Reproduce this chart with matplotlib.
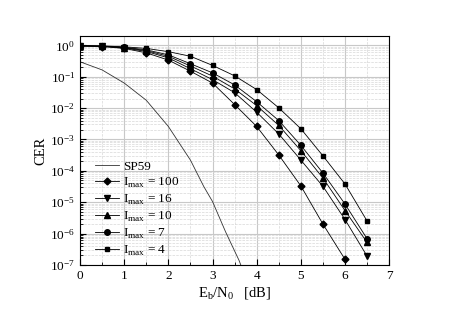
import matplotlib
matplotlib.use('Agg')
import matplotlib.pyplot as plt
import numpy as np
from matplotlib.ticker import MultipleLocator, LogLocator, NullFormatter

plt.rcParams['font.family'] = ['Liberation Serif', 'DejaVu Serif']
plt.rcParams['mathtext.fontset'] = 'custom'
plt.rcParams['mathtext.rm'] = 'Liberation Serif'

# Eb/N0 [dB]
ebn0 = [0, 0.5, 1, 1.5, 2, 2.5, 3, 3.5, 4, 4.5, 5, 5.5, 6, 6.5]

# CER for each max iteration count
cer_i4 = [0.98, 0.96, 0.90, 0.80, 0.63, 0.45, 0.23, 0.107, 0.039, 1.02e-2, 2.2e-3, 3.0e-4, 3.8e-5, 2.5e-6]
cer_i7 = [0.97, 0.95, 0.87, 0.72, 0.50, 0.26, 0.133, 0.055, 0.016, 4.0e-3, 6.5e-4, 8.5e-5, 8.7e-6, 6.8e-7]
cer_i10 = [0.97, 0.94, 0.85, 0.68, 0.45, 0.22, 0.105, 0.041, 0.012, 2.8e-3, 4.4e-4, 5.9e-5, 5.4e-6, 5.2e-7]
cer_i16 = [0.96, 0.93, 0.83, 0.64, 0.40, 0.18, 0.081, 0.031, 7.4e-3, 1.5e-3, 2.2e-4, 3.2e-5, 2.8e-6, 1.9e-7]
cer_i100 = [0.96, 0.92, 0.80, 0.58, 0.34, 0.15, 0.063, 0.013, 2.6e-3, 3.2e-4, 3.3e-5, 2.0e-6, 1.5e-7]

# sphere packing bound
sp59_x = [0, 0.5, 1, 1.5, 2, 2.5, 2.8, 3, 3.3, 3.6, 3.7]
sp59_y = [0.30, 0.165, 0.063, 0.0178, 2.6e-3, 2.2e-4, 3.2e-5, 1.05e-5, 1.1e-6, 1.4e-7, 6e-8]

fig = plt.figure(figsize=(4.52, 3.18), dpi=100)
ax = fig.add_axes([0.177, 0.167, 0.684, 0.72])

ax.plot(sp59_x, sp59_y, color='#333333', lw=0.6, label='SP59')
lab = r'$\mathrm{I}_{\mathrm{max}}$ = '
ax.plot(ebn0[:len(cer_i100)], cer_i100, 'kD-', ms=3.5, lw=0.6, label=lab + '100')
ax.plot(ebn0, cer_i16, 'kv-', ms=4, lw=0.6, label=lab + '16')
ax.plot(ebn0, cer_i10, 'k^-', ms=4, lw=0.6, label=lab + '10')
ax.plot(ebn0, cer_i7, 'ko-', ms=4, lw=0.6, label=lab + '7')
ax.plot(ebn0, cer_i4, 'ks-', ms=3.5, lw=0.6, label=lab + '4')

ax.set_yscale('log')
ax.set_xlim(0, 7)
ax.set_ylim(1e-7, 2)
ax.xaxis.set_major_locator(MultipleLocator(1))
ax.xaxis.set_minor_locator(MultipleLocator(0.5))
ax.yaxis.set_major_locator(LogLocator(base=10, numticks=20))
ax.yaxis.set_minor_locator(LogLocator(base=10, subs=np.arange(2, 10), numticks=20))
ax.yaxis.set_minor_formatter(NullFormatter())

ax.grid(True, which='major', color='#c8c8c8', lw=0.8)
ax.grid(True, which='minor', color='#d8d8d8', lw=0.5, ls='--')
ax.set_axisbelow(True)
ax.tick_params(which='both', direction='in', labelsize=9.5)
ax.tick_params(which='major', length=4)
ax.tick_params(which='minor', length=2)
for s in ax.spines.values():
    s.set_linewidth(0.8)

ax.set_xlabel(r'$\mathrm{E_b/N_0}$   [dB]', fontsize=10.5, labelpad=2)
ax.set_ylabel('CER', fontsize=10.5, labelpad=2)

ax.legend(loc='lower left', bbox_to_anchor=(0.01, -0.022), frameon=False, fontsize=9.5,
          handlelength=1.8, labelspacing=0.22, handletextpad=0.35)

plt.savefig('out.png', dpi=100)
